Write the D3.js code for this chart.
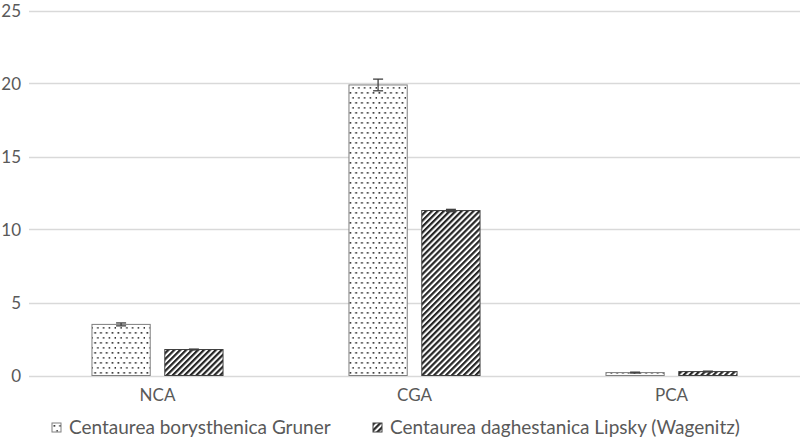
<!DOCTYPE html>
<html>
<head>
<meta charset="utf-8">
<script src="https://cdn.jsdelivr.net/npm/d3@7"></script>
<style>
  body { margin: 0; background: #fff; }
  text { font-family: Lato, "Open Sans", sans-serif; fill: #595959; }
</style>
</head>
<body>
<div id="chart"></div>
<script>
// data
var categories = ["NCA", "CGA", "PCA"];
var seriesNames = ["Centaurea borysthenica Gruner", "Centaurea daghestanica Lipsky (Wagenitz)"];
var borysthenica = [3.5, 19.9, 0.2];
var borysthenicaErr = [0.1, 0.4, 0.03];
var daghestanica = [1.78, 11.3, 0.27];
var daghestanicaErr = [0.03, 0.08, 0.03];
var yTicks = [0, 5, 10, 15, 20, 25];

var width = 800, height = 440;
var svg = d3.select("#chart").append("svg").attr("width", width).attr("height", height);

// patterns
var defs = svg.append("defs");
var dots = defs.append("pattern").attr("id", "dots")
    .attr("patternUnits", "userSpaceOnUse").attr("width", 5.8).attr("height", 10);
dots.append("rect").attr("width", 5.8).attr("height", 10).attr("fill", "#fff");
dots.append("rect").attr("x", 1.5).attr("y", 2).attr("width", 1.7).attr("height", 1.7).attr("fill", "#333");
dots.append("rect").attr("x", 4.4).attr("y", 7).attr("width", 1.7).attr("height", 1.7).attr("fill", "#333");

var hatch = defs.append("pattern").attr("id", "hatch")
    .attr("patternUnits", "userSpaceOnUse").attr("width", 4.2).attr("height", 4.2)
    .attr("patternTransform", "rotate(45)");
hatch.append("rect").attr("width", 4.2).attr("height", 4.2).attr("fill", "#fff");
hatch.append("line").attr("x1", 1.1).attr("y1", 0).attr("x2", 1.1).attr("y2", 4.2)
    .attr("stroke", "#262626").attr("stroke-width", 2.2);

var fills = ["url(#dots)", "url(#hatch)"];
var strokes = ["#7f7f7f", "#404040"];

var y = d3.scaleLinear().domain([0, 25]).range([375.5, 10.5]);
var x0 = d3.scaleBand().domain(categories).range([29, 800])
    .paddingInner(0.49).paddingOuter(0.245);
var x1 = d3.scaleBand().domain([0, 1]).range([0, x0.bandwidth()]).paddingInner(0.2);

// gridlines
svg.append("g").selectAll("line").data(yTicks).enter().append("line")
    .attr("x1", 29).attr("x2", 800)
    .attr("y1", function(d) { return Math.round(y(d)) + 0.5; })
    .attr("y2", function(d) { return Math.round(y(d)) + 0.5; })
    .attr("stroke", "#d9d9d9").attr("stroke-width", 1.3);

// y tick labels
svg.append("g").selectAll("text").data(yTicks).enter().append("text")
    .attr("x", 21).attr("y", function(d) { return y(d) + 6; })
    .attr("text-anchor", "end").attr("font-size", 17)
    .text(function(d) { return d; });

var series = [
  { vals: borysthenica, err: borysthenicaErr },
  { vals: daghestanica, err: daghestanicaErr }
];

series.forEach(function(s, si) {
  var g = svg.append("g");
  g.selectAll("rect").data(s.vals).enter().append("rect")
    .attr("x", function(d, i) { return x0(categories[i]) + x1(si); })
    .attr("y", function(d) { return y(d); })
    .attr("width", x1.bandwidth())
    .attr("height", function(d) { return y(0) - y(d); })
    .attr("fill", fills[si])
    .attr("stroke", strokes[si]).attr("stroke-width", 1);

  // error bars
  var eg = svg.append("g").attr("stroke", "#404040").attr("stroke-width", 1.3);
  s.vals.forEach(function(v, i) {
    var cx = x0(categories[i]) + x1(si) + x1.bandwidth() / 2;
    var top = y(v + s.err[i]), bot = y(v - s.err[i]);
    eg.append("line").attr("x1", cx).attr("x2", cx).attr("y1", top).attr("y2", bot);
    eg.append("line").attr("x1", cx - 5).attr("x2", cx + 5).attr("y1", top).attr("y2", top);
    eg.append("line").attr("x1", cx - 5).attr("x2", cx + 5).attr("y1", bot).attr("y2", bot);
  });
});

// category labels
svg.append("g").selectAll("text").data(categories).enter().append("text")
    .attr("x", function(d) { return x0(d) + x0.bandwidth() / 2; })
    .attr("y", 401)
    .attr("text-anchor", "middle").attr("font-size", 17)
    .text(function(d) { return d; });

// legend
var legendX = [52, 373];
seriesNames.forEach(function(name, i) {
  var lg = svg.append("g").attr("transform", "translate(" + legendX[i] + ",423)");
  lg.append("rect").attr("width", 9).attr("height", 9)
    .attr("fill", fills[i]).attr("stroke", strokes[i]).attr("stroke-width", 1);
  lg.append("text").attr("x", 17).attr("y", 10.5).attr("font-size", 19).text(name);
});
</script>
</body>
</html>
